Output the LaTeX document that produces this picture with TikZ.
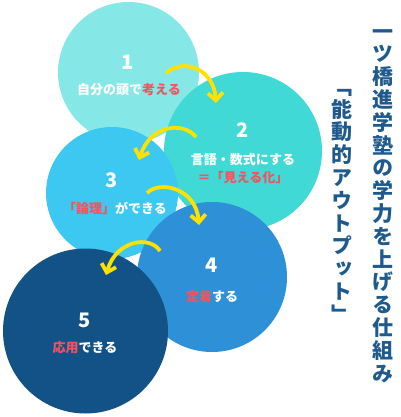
\documentclass[tikz,border=0pt]{standalone}
\usepackage{fontspec}
\setmainfont{Noto Sans CJK JP}
\newfontfamily\titlefont[RawFeature=+vert]{Noto Sans CJK JP}
\usetikzlibrary{arrows.meta}

\definecolor{stepone}{HTML}{86E8E6}
\definecolor{steptwo}{HTML}{40D9D6}
\definecolor{stepthree}{HTML}{3CC8F0}
\definecolor{stepfour}{HTML}{2E90D6}
\definecolor{stepfive}{HTML}{135286}
\definecolor{flowyellow}{HTML}{FFE100}
\definecolor{accentred}{HTML}{F5525E}
\definecolor{titleblue}{HTML}{1F5A8E}

\begin{document}
\begin{tikzpicture}[x=1pt,y=-1pt,
	stepcircle/.style={circle, inner sep=0pt, minimum size=#1},
	numtext/.style={text=white, inner sep=0pt, font=\bfseries\fontsize{20}{20}\selectfont},
	labtext/.style={text=white, inner sep=0pt, align=center, font=\bfseries\fontsize{13}{18}\selectfont},
	flow/.style={draw=flowyellow, line width=3.8pt, -{Straight Barb[length=7.5pt,width=15pt]}},
	titletext/.style={text=titleblue, inner sep=0pt, anchor=north, align=center, font=\titlefont\bfseries\fontsize{21}{22.8}\selectfont},
	]
	\useasboundingbox (0,0) rectangle (400,417);
	
	%Circles
	\node[stepcircle=141pt, fill=stepone] (circ1) at (128.5,72.5) {};
	\node[stepcircle=158pt, fill=steptwo] (circ2) at (243,151) {};
	\node[stepcircle=132pt, fill=stepthree] (circ3) at (112,193) {};
	\node[stepcircle=150pt, fill=stepfour] (circ4) at (212,277) {};
	\node[stepcircle=165pt, fill=stepfive] (circ5) at (85.5,331) {};
	
	%Texts
	\node[numtext] (num1) at (128,62) {1};
	\node[labtext] (lab1) at (129,90) {自分の頭で\textcolor{accentred}{考える}};
	\node[numtext] (num2) at (243,130) {2};
	\node[labtext] (lab2) at (243,169) {言語・数式にする\\\textcolor{accentred}{＝「見える化」}};
	\node[numtext] (num3) at (112,180) {3};
	\node[labtext] (lab3) at (115,208) {\textcolor{accentred}{「論理」}ができる};
	\node[numtext] (num4) at (212,265) {4};
	\node[labtext] (lab4) at (212,297) {\textcolor{accentred}{定着}する};
	\node[numtext] (num5) at (85,320) {5};
	\node[labtext] (lab5) at (85,348) {\textcolor{accentred}{応用}できる};
	
	%Arrows
	\coordinate (tail1) at (166,73);
	\coordinate (head1) at (216,103);
	\coordinate (tail2) at (196,137);
	\coordinate (head2) at (139,160);
	\coordinate (tail3) at (147,193);
	\coordinate (head3) at (199,225);
	\coordinate (tail4) at (160,251);
	\coordinate (head4) at (106,275);
	\draw[flow] (tail1) .. controls (185,57) and (214,70) .. (head1);
	\draw[flow] (tail2) .. controls (183,121) and (150,125) .. (head2);
	\draw[flow] (tail3) .. controls (160,180) and (196,188) .. (head3);
	\draw[flow] (tail4) .. controls (150,235) and (116,240) .. (head4);
	
	%Title
	\node[titletext] (titleright) at (383,29) {一\\ツ\\橋\\進\\学\\塾\\の\\学\\力\\を\\上\\げ\\る\\仕\\組\\み};
	\node[titletext] (titleleft) at (342,89) {「\\能\\動\\的\\ア\\ウ\\ト\\プ\\ッ\\ト\\」};
	
\end{tikzpicture}
\end{document}
